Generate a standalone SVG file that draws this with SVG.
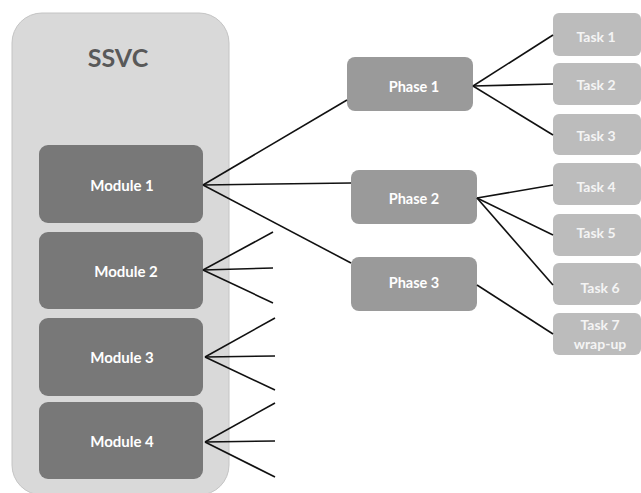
<svg xmlns="http://www.w3.org/2000/svg" width="641" height="493" viewBox="0 0 641 493">
<style>
.container{fill:#d9d9d9;stroke:#c4c4c4;stroke-width:1}
.module{fill:#787878}
.phase{fill:#9a9a9a}
.task{fill:#bcbcbc}
.lbl{font-family:Lato,"Liberation Sans",sans-serif;font-weight:bold;fill:#ffffff;text-anchor:middle;dominant-baseline:central}
.tlbl{font-family:Lato,"Liberation Sans",sans-serif;font-weight:bold;fill:#f4f4f4;text-anchor:middle;dominant-baseline:central;font-size:14px}
.title{font-family:Lato,"Liberation Sans",sans-serif;font-weight:bold;fill:#595959;text-anchor:middle;font-size:25px}
.conn line{stroke:#111;stroke-width:1.6;fill:none}
</style>
<rect width="641" height="493" fill="#ffffff"/>
<g id="ssvc">
<rect class="container" x="12" y="13" width="217" height="482" rx="30"/>
<text class="title" x="118" y="67">SSVC</text>
</g>
<g id="module1"><rect class="module" x="39" y="145" width="164" height="78" rx="9"/><text class="lbl" x="122" y="185" font-size="15">Module 1</text></g>
<g id="module2"><rect class="module" x="39" y="232" width="164" height="77" rx="9"/><text class="lbl" x="126" y="271" font-size="15">Module 2</text></g>
<g id="module3"><rect class="module" x="39" y="318" width="164" height="78" rx="9"/><text class="lbl" x="122" y="357" font-size="15">Module 3</text></g>
<g id="module4"><rect class="module" x="39" y="402" width="164" height="77" rx="9"/><text class="lbl" x="122" y="441" font-size="15">Module 4</text></g>
<g id="phase1"><rect class="phase" x="347" y="57" width="126" height="54" rx="8"/><text class="lbl" x="414" y="86" font-size="14.5">Phase 1</text></g>
<g id="phase2"><rect class="phase" x="351" y="170" width="126" height="54" rx="8"/><text class="lbl" x="414" y="198" font-size="14.5">Phase 2</text></g>
<g id="phase3"><rect class="phase" x="351" y="257" width="126" height="54" rx="8"/><text class="lbl" x="414" y="282" font-size="14.5">Phase 3</text></g>
<g id="task1"><rect class="task" x="553" y="13" width="88" height="43" rx="6"/><text class="tlbl" x="596" y="36">Task 1</text></g>
<g id="task2"><rect class="task" x="553" y="63" width="88" height="42" rx="6"/><text class="tlbl" x="596" y="84">Task 2</text></g>
<g id="task3"><rect class="task" x="553" y="114" width="88" height="41" rx="6"/><text class="tlbl" x="596" y="135">Task 3</text></g>
<g id="task4"><rect class="task" x="553" y="163" width="88" height="42" rx="6"/><text class="tlbl" x="596" y="186">Task 4</text></g>
<g id="task5"><rect class="task" x="553" y="214" width="88" height="42" rx="6"/><text class="tlbl" x="596" y="232">Task 5</text></g>
<g id="task6"><rect class="task" x="553" y="263" width="88" height="42" rx="6"/><text class="tlbl" x="600" y="287">Task 6</text></g>
<g id="task7"><rect class="task" x="553" y="313" width="88" height="42" rx="6"/><text class="tlbl" x="600" y="324">Task 7</text><text class="tlbl" x="600" y="343">wrap-up</text></g>
<g id="connectors" class="conn">
<line x1="203" y1="185" x2="347" y2="100"/>
<line x1="203" y1="185" x2="351" y2="183"/>
<line x1="203" y1="185" x2="351" y2="263"/>
<line x1="203" y1="270" x2="273" y2="232"/>
<line x1="203" y1="270" x2="273" y2="268"/>
<line x1="203" y1="270" x2="273" y2="303"/>
<line x1="205" y1="357" x2="275" y2="318"/>
<line x1="205" y1="357" x2="275" y2="356"/>
<line x1="205" y1="357" x2="275" y2="390"/>
<line x1="205" y1="442" x2="275" y2="403"/>
<line x1="205" y1="442" x2="275" y2="441"/>
<line x1="205" y1="442" x2="275" y2="477"/>
<line x1="473" y1="86" x2="553" y2="35"/>
<line x1="473" y1="86" x2="553" y2="84"/>
<line x1="473" y1="86" x2="553" y2="135"/>
<line x1="477" y1="198" x2="553" y2="185"/>
<line x1="477" y1="198" x2="553" y2="235"/>
<line x1="477" y1="198" x2="553" y2="285"/>
<line x1="477" y1="285" x2="553" y2="334"/>
</g>
</svg>
